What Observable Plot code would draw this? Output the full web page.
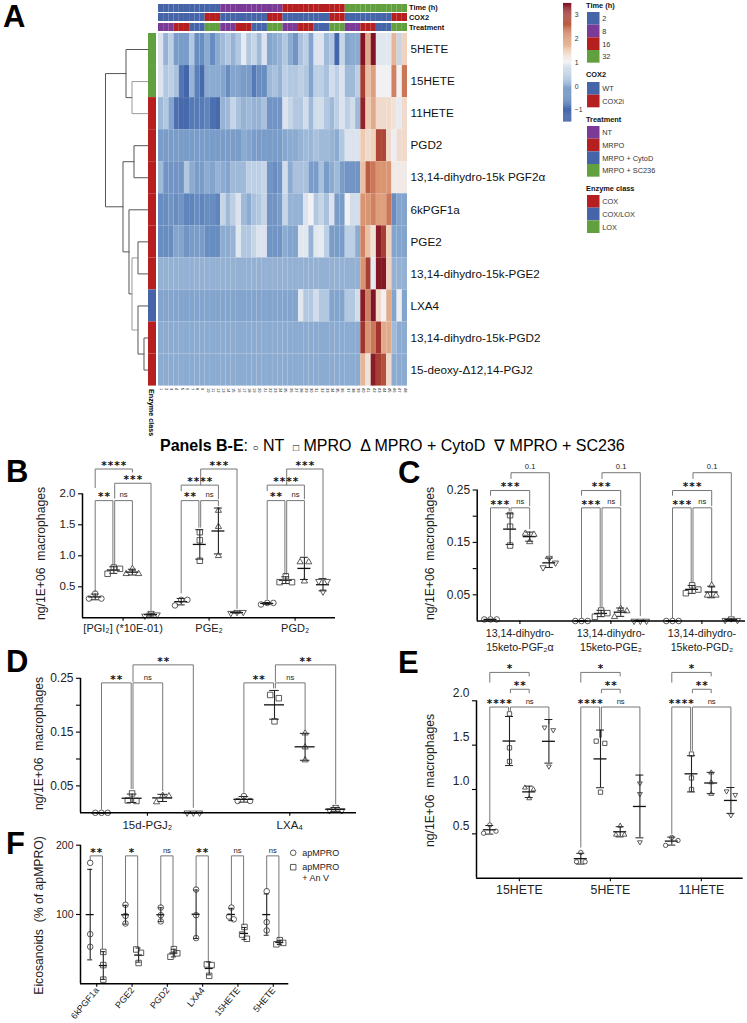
<!DOCTYPE html>
<html><head><meta charset="utf-8">
<script src="https://cdn.jsdelivr.net/npm/d3@7"></script>
<script src="https://cdn.jsdelivr.net/npm/@observablehq/plot@0.6"></script>
<style>
html,body{margin:0;padding:0;background:#fff}
#page{position:relative;width:747px;height:1023px;overflow:hidden;font-family:"Liberation Sans",Arial,sans-serif;color:#000}
#page svg{position:absolute;background:transparent;overflow:visible}
.letter{position:absolute;font-weight:bold;font-size:31px;line-height:31px}
.head{position:absolute;left:160px;top:436px;font-size:16px;white-space:nowrap;line-height:20px}
.ec{position:absolute;left:147px;top:389px;font-size:7.2px;font-weight:bold;writing-mode:vertical-rl;white-space:nowrap}
.lt{position:absolute;font-size:7.4px;font-weight:bold;white-space:nowrap;line-height:8px;color:#111}
</style></head><body><div id="page"></div>
<script>
// ---------- Panel A data ----------
const rowNames=["5HETE","15HETE","11HETE","PGD2","13,14-dihydro-15k PGF2α","6kPGF1a","PGE2","13,14-dihydro-15k-PGE2","LXA4","13,14-dihydro-15k-PGD2","15-deoxy-Δ12,14-PGJ2"];
const r5HETE=[0.8,0.1,0.5,-0.2,-0.2,-0.2,0.4,-0.4,-0.4,0,-0.4,0,0.2,0.4,0.1,0.4,0.9,0.4,0.6,0.2,0.8,-0.1,0,0.1,0.4,0,-0.3,0.3,0.5,-0.1,0.8,0.8,0.2,0.4,-1.1,0.6,-0.1,0,0,3.4,1.8,3.4,0.85,0.85,0.85,1.7,0.6,1.4];
const r15HETE=[0.8,0.4,0.5,0.3,-0.8,-1.1,0.1,-0.6,-1.0,0,0,0,-0.1,-0.4,-0.1,-0.1,-0.2,-0.2,-0.7,-0.4,-0.4,0.2,0.3,0.1,0.5,0.4,0.4,0.5,0.4,-0.1,0.5,0.5,0.3,0.7,0.5,0.8,0.2,0.2,0.5,2.9,1.6,1.9,1.0,1.0,1.0,2.2,1.0,2.3];
const r11HETE=[0.2,0.4,-0.1,-0.9,-1.0,-1.0,-0.7,-0.7,-0.7,-0.5,-0.9,-1.0,0.1,0.2,0.6,0.3,0.1,0.2,0.1,0.1,0.3,-0.3,-0.3,-0.3,0.8,0.6,0.4,0.4,0.7,0.2,0.7,0.7,0.4,0.2,0.5,0.8,0.5,0.7,0.2,3.2,1.5,1.8,1.3,1.3,1.3,1.2,0.9,1.3];
const rPGD2=[-0.2,-0.2,-0.2,-0.2,-0.2,-0.2,-0.2,-0.2,-0.2,-0.2,-0.2,-0.2,-0.2,-0.2,-0.2,-0.2,0,-0.1,-0.2,-0.2,-0.2,-0.2,-0.2,-0.2,-0.05,0,0,0.1,0.2,0.15,0.3,0.2,0.2,0.1,0,0.4,0.8,0.8,0.8,1.5,1.3,1.4,2.8,2.8,1.3,0.95,1.3,1.3];
const rPGF2a=[0.2,-0.3,-0.3,-0.3,-0.3,0.4,0,-0.2,-0.2,0,-0.1,0.1,0,-0.1,0.2,0.2,0.2,0.5,0.5,0.5,0.6,-0.3,-0.4,-0.3,0.7,0,0.3,0.3,0.3,-0.2,-0.2,0.3,-0.2,0,0.2,-0.2,-0.3,-0.3,-0.3,1.6,2.6,2.3,2.0,2.0,2.0,1.1,1.1,1.1];
const r6k=[-0.4,-0.4,-0.3,-0.4,-0.3,-0.5,-0.5,-0.4,-0.5,-0.4,-0.4,-0.5,0.6,0.2,0.5,0.8,0.2,0,0.3,0.4,0.6,-0.3,-0.3,-0.2,0.6,0.1,0.1,0.1,0.8,1.0,0.4,0.6,0.3,0.8,-0.2,-0.2,1.0,0.7,0.7,2.0,2.0,2.2,1.9,1.9,2.3,-0.4,-0.1,-0.1];
const rPGE2=[-0.4,-0.4,-0.4,-0.1,-0.1,-0.3,-0.2,-0.2,-0.2,-0.4,-0.4,-0.4,0,0,0.1,0.85,0.4,0.4,0.6,0.8,0.8,-0.3,-0.3,-0.3,0,-0.1,-0.1,0.85,0.85,0.1,0.85,0.9,0.5,-0.2,-0.2,-0.2,0.5,0.5,0,2.2,1.6,1.2,3.3,2.9,1.4,-0.1,-0.1,-0.1];
const rPGE2k=[0.08,0.08,0.08,0.08,0.08,0.08,0.08,0.08,0.08,0.08,0.08,0.08,0.08,0.08,0.08,0.08,0.08,0.08,0.08,0.08,0.08,0.08,0.08,0.08,0.08,0.08,0.08,0.08,0.08,0.08,0.08,0.08,0.08,0.08,0.08,0.08,0.08,0.08,0.08,2.0,2.9,0.9,3.35,3.35,1.4,0.08,0.08,0.08];
const rLXA4=[-0.1,-0.1,-0.1,-0.1,-0.1,-0.1,-0.1,-0.1,-0.1,-0.1,-0.1,-0.1,-0.1,-0.1,-0.1,-0.1,-0.1,-0.1,-0.1,-0.1,-0.1,-0.1,-0.1,-0.1,-0.1,-0.1,-0.1,0.85,0.4,0.4,0.7,0.4,0.4,-0.1,-0.1,-0.1,0.4,0.4,0.7,3.3,2.2,3.4,1.3,1.0,1.8,-0.1,0.95,-0.1];
const rPGD2k=[0,0,0,0,0,0,0,0,0,0,0,0,0,0,0,0,0,0,0,0,0,0,0,0,0,0,0,0,0,0,0,0,0,0,0,0,0,0,0,3,2,2.3,3,1.8,1.8,0.2,0,0];
const rPGJ2=[0,0,0,0,0,0,0,0,0,0,0,0,0,0,0,0,0,0,0,0,0,0,0,0,0,0,0,0,0,0,0,0,0,0,0,0,0,0,0,1.7,1.2,3.3,2.9,2.7,1.3,0,0,0];
const heatRows=[r5HETE,r15HETE,r11HETE,rPGD2,rPGF2a,r6k,rPGE2,rPGE2k,rLXA4,rPGD2k,rPGJ2];
const heatStops=[-1.49,-0.5,-0.2,0,0.5,1,1.5,2,2.5,3,3.46];
const heatColors=["#30509f","#5f85bc","#7a9cc8","#8cabd1","#bccfe4","#f1f1f4","#eecbb0","#d99472","#c06446","#a03530","#7c0f22"];
const catBlue="#4565a8",catPurple="#7b3a96",catRed="#b51f1f",catGreen="#62a03f";
const timeCats=["2","8","16","32"],timeCols=[catBlue,catPurple,catRed,catGreen];
const coxCats=["WT","COX2i"],coxCols=[catBlue,catRed];
const treatCats=["NT","MRPO","MRPO + CytoD","MRPO + SC236"],treatCols=[catPurple,catRed,catBlue,catGreen];
const enzCats=["COX","COX/LOX","LOX"],enzCols=[catRed,catBlue,catGreen];
const enzymeByRow=["LOX","LOX","COX","COX","COX","COX","COX","COX","COX/LOX","COX","COX"];
// nested merges [distance, left, right]; numbers are row indices
const dendroTree=[42.5,[22,0,[16,1,2]],[25,[14,3,4],[19,5,[16,[10,6,7],[10,8,[4,9,10]]]]]];

// ---------- Panels B-E ----------
const groupsB=["[PGI₂] (*10E-01)","PGE₂","PGD₂"];
const valuesB=[[[0.39,0.31,0.31],[0.81,0.79,0.71],[0.79,0.71,0.71],[0.075,0.05,0.03]],
 [[0.29,0.29,0.2],[1.38,1.25,0.92],[1.73,1.47,1.0],[0.09,0.09,0.075]],
 [[0.24,0.24,0.215],[0.67,0.575,0.575],[0.9,0.9,0.59],[0.59,0.59,0.42]]];
const bracketsB=[[0,0,2,2.40,2.1,2.35,"****"],[0,1,3,2.17,1.93,0.12,"***"],[0,0,1,1.89,0.42,0.85,"**"],[0,1,2,1.89,0.85,0.85,"ns"],
 [1,1,3,2.40,2.14,0.15,"***"],[1,0,2,2.14,2.05,1.92,"****"],[1,0,1,1.89,0.4,1.46,"**"],[1,1,2,1.89,1.46,1.81,"ns"],
 [2,1,3,2.40,2.14,0.65,"***"],[2,0,2,2.14,2.05,1.92,"****"],[2,0,1,1.89,0.3,0.7,"**"],[2,1,2,1.89,0.7,1.0,"ns"]];
const groupsC=["13,14-dihydro-\n15keto-PGF₂α","13,14-dihydro-\n15keto-PGE₂","13,14-dihydro-\n15keto-PGD₂"];
const valuesC=[[[0.003,0.003,0.003],[0.202,0.18,0.144],[0.167,0.165,0.151],[0.12,0.111,0.102]],
 [[0,0,0],[0.02,0.015,0.008],[0.0235,0.019,0.008],[0,0,0]],
 [[0,0,0],[0.068,0.06,0.053],[0.068,0.049,0.049],[0.0045,0.0015,0.0015]]];
const bracketsC=[[0,1,3,0.283,0.272,0.125,"0.1"],[0,0,2,0.249,0.24,0.22,"***"],[0,0,1,0.216,0.01,0.21,"***"],[0,1,2,0.216,0.21,0.176,"ns"],
 [1,1,3,0.283,0.272,0.01,"0.1"],[1,0,2,0.249,0.24,0.22,"***"],[1,0,1,0.216,0.006,0.027,"***"],[1,1,2,0.216,0.027,0.03,"ns"],
 [2,1,3,0.283,0.272,0.01,"0.1"],[2,0,2,0.249,0.24,0.22,"***"],[2,0,1,0.216,0.006,0.074,"***"],[2,1,2,0.216,0.074,0.074,"ns"]];
const groupsD=["15d-PGJ₂","LXA₄"];
const valuesD=[[[0,0,0],[0.036,0.023,0.022],[0.032,0.031,0.02],[0,0,0]],
 [[0.031,0.022,0.022],[0.219,0.213,0.17],[0.148,0.122,0.098],[0.0105,0.0043,0.0043]]];
const bracketsD=[[0,1,3,0.275,0.244,0.01,"**"],[0,0,1,0.2415,0.007,0.045,"**"],[0,1,2,0.2415,0.045,0.041,"ns"],
 [1,1,3,0.275,0.244,0.017,"**"],[1,0,1,0.2415,0.038,0.232,"**"],[1,1,2,0.2415,0.232,0.156,"ns"]];
const groupsE=["15HETE","5HETE","11HETE"];
const valuesE=[[[0.6,0.53,0.507],[1.853,1.47,1.316],[1.02,1.0,0.9],[1.7,1.67,1.26]],
 [[0.29,0.185,0.185],[1.545,1.52,0.97],[0.59,0.49,0.49],[1.07,0.95,0.406]],
 [[0.46,0.425,0.37],[1.4,1.13,1.0],[1.19,1.08,0.95],[0.98,0.94,0.71]]];
const bracketsE=[[0,0,2,2.32,2.21,2.28,"*"],[0,1,2,2.13,2.09,2.09,"**"],[0,0,1,1.93,0.63,1.89,"****"],[0,1,3,1.93,1.89,1.74,"ns"],
 [1,0,2,2.32,2.21,2.28,"*"],[1,1,2,2.13,2.09,2.09,"**"],[1,0,1,1.93,0.35,1.59,"****"],[1,1,3,1.93,1.59,1.10,"ns"],
 [2,0,2,2.32,2.21,2.28,"*"],[2,1,2,2.13,2.09,2.09,"**"],[2,0,1,1.93,0.5,1.44,"****"],[2,1,3,1.93,1.44,1.03,"ns"]];
// ---------- Panel F ----------
const groupsF=["6kPGF1a","PGE2","PGD2","LXA4","15HETE","5HETE"];
const valuesF=[[[174.5,71.6,53.4],[46,27,6]],[[114,98,87],[49.5,44.7,30]],[[110,99,90],[50,44,39]],
 [[136,99,66],[28,27,11.5]],[[110,97,93],[82,71,65]],[[133.6,89,77],[63,59,57]]];
const bracketsF=[[0,0,1,184.6,178,51,"**"],[1,0,1,184.6,118,53,"*"],[2,0,1,184.6,113,53,"ns"],[3,0,1,184.6,139,32,"**"],[4,0,1,184.6,114,85,"ns"],[5,0,1,184.6,137,65,"ns"]];
const legendF=["apMPRO","apMPRO\n+ An V"];

// ---------- helpers ----------
const page=document.getElementById("page");
const FONT='"Liberation Sans",Arial,sans-serif';
function place(svg,left,top){svg.style.left=left+"px";svg.style.top=top+"px";page.appendChild(svg);}
function html(cls,txt,style){const d=document.createElement("div");d.className=cls;d.innerHTML=txt;if(style)Object.assign(d.style,style);page.appendChild(d);}
const heatColorScale={type:"linear",domain:heatStops,range:heatColors,interpolate:"rgb"};
const HX0=158,HX1=407,HY0=33,HY1=385.6;
const columns=d3.range(1,49);

// heatmap
const cells=heatRows.flatMap((r,i)=>r.map((v,j)=>({row:rowNames[i],col:j+1,v})));
place(Plot.plot({width:747,height:440,marginTop:HY0,marginBottom:440-HY1,marginLeft:HX0,marginRight:747-HX1,
 style:{fontFamily:FONT},
 x:{type:"band",domain:columns,padding:0,round:false,axis:null},
 y:{type:"band",domain:rowNames,padding:0,round:false,axis:null},
 color:heatColorScale,
 marks:[Plot.cell(cells,{x:"col",y:"row",fill:"v"}),
  Plot.axisX(columns,{anchor:"bottom",tickSize:0,tickPadding:2,tickRotate:90,fontSize:4,label:null}),
  Plot.axisY(rowNames,{anchor:"right",tickSize:0,tickPadding:3,fontSize:11.7,label:null,fill:"#111"})]}),0,0);

// annotation strips
function strip(cats,cols,assign,top,h){
 const d=columns.map(c=>({c,k:assign(c-1)}));
 place(Plot.plot({width:747,height:h,margin:0,marginLeft:HX0,marginRight:747-HX1,
  x:{type:"band",domain:columns,padding:0,round:false,axis:null},
  color:{type:"ordinal",domain:cats,range:cols},
  marks:[Plot.cell(d,{x:"c",fill:"k"})]}),0,top);
}
strip(timeCats,timeCols,i=>timeCats[Math.floor(i/12)],4,8);
strip(coxCats,coxCols,i=>i%12<9?"WT":"COX2i",13.3,8);
strip(treatCats,treatCols,i=>treatCats[Math.floor(i/3)%4],22.7,8);
for(const [t,y] of [["Time (h)",3],["COX2",13],["Treatment",23]]) html("lt",t,{left:"409px",top:(y+0.5)+"px"});

// enzyme class strip
place(Plot.plot({width:156,height:HY1-HY0,margin:0,marginLeft:148,
 x:{axis:null},y:{type:"band",domain:rowNames,padding:0,round:false,axis:null},
 color:{type:"ordinal",domain:enzCats,range:enzCols},
 marks:[Plot.cell(rowNames.map((r,i)=>({r,k:enzymeByRow[i]})),{y:"r",fill:"k"})]}),0,HY0);
html("ec","Enzyme class");

// dendrogram
const dSegs=[];let dId=0;
function walk(n){ if(typeof n==="number") return {h:0,y:n+0.5};
 const a=walk(n[1]),b=walk(n[2]);
 const id=dId++, light=(n[0]===16);
 dSegs.push({id,light,h:a.h,y:a.y},{id,light,h:n[0],y:a.y},{id,light,h:n[0],y:b.y},{id,light,h:b.h,y:b.y});
 return {h:n[0],y:(a.y+b.y)/2};}
walk(dendroTree);
place(Plot.plot({width:148,height:HY1-HY0,margin:0,
 x:{domain:[42.5,0],range:[105,147.5],axis:null},y:{domain:[0,11],range:[0,HY1-HY0],axis:null},
 marks:[Plot.line(dSegs.filter(d=>!d.light),{x:"h",y:"y",z:"id",stroke:"#555",strokeWidth:1,curve:"linear"}),
        Plot.line(dSegs.filter(d=>d.light),{x:"h",y:"y",z:"id",stroke:"#999",strokeWidth:1,curve:"linear"})]}),0,HY0);

// colorbar
const barSteps=d3.range(-1.49,3.46,0.04);
place(Plot.plot({width:24,height:119,margin:0,marginRight:15.7,
 style:{fontFamily:FONT},
 x:{domain:[0,1],axis:null},y:{domain:[-1.49,3.46],range:[118.5,0.3],axis:null},
 color:heatColorScale,
 marks:[Plot.rect(barSteps,{x1:0,x2:1,y1:d=>d,y2:d=>d+0.045,fill:d=>d}),
  Plot.axisY([-1,0,1,2,3],{anchor:"right",tickSize:0,tickPadding:3,fontSize:6.8,fill:"#333",label:null})]}),562.7,3);

// category legends
function catLegend(title,cats,cols,titleY,swTop,swLeft){
 html("lt",title,{left:"586px",top:(titleY-4)+"px"});
 const step=12.67;
 place(Plot.plot({width:150,height:step*cats.length,margin:0,marginLeft:0,marginRight:150-12.5,
  style:{fontFamily:FONT},
  x:{domain:[0,1],axis:null},y:{type:"band",domain:cats,padding:0,round:false,axis:null},
  color:{type:"ordinal",domain:cats,range:cols},
  marks:[Plot.cell(cats,{y:d=>d,fill:d=>d}),
   Plot.axisY(cats,{anchor:"right",tickSize:0,tickPadding:2.2,fontSize:7.4,fill:"#333",label:null})]}),swLeft,swTop);
}
catLegend("Time (h)",timeCats,timeCols,6,12.3,586.7);
catLegend("COX2",coxCats,coxCols,75,81.7,586.7);
catLegend("Treatment",treatCats,treatCols,120,126,587.3);
catLegend("Enzyme class",enzCats,enzCols,189,195,586.7);

// scatter panels
function swarm(vals,ppu,thresh,k){
 const idx=d3.range(vals.length).sort((a,b)=>vals[b]-vals[a]);
 const off=vals.map(()=>0);let i=0;
 while(i<idx.length){let j=i;
  while(j+1<idx.length&&(vals[idx[j]]-vals[idx[j+1]])*ppu<thresh)j++;
  const n=j-i+1;
  if(n===2){off[idx[i]]=-4.3*k;off[idx[j]]=4.3*k;}
  if(n===3){off[idx[i]]=0;off[idx[i+1]]=6.2*k;off[idx[i+2]]=-6.2*k;}
  i=j+1;}
 return off;}
const shapes=[{symbol:"circle",r:2.8},{symbol:"square",r:3.1},{symbol:"triangle",r:2.3},{symbol:"triangle",r:2.3,rotate:180}];
function panel(c){
 const ppu=c.ppu,spacing=c.spacing,gap=c.step/c.spacing,symK=c.symK||1;
 const x0=(c.axisL-c.firstPx)/spacing,x1=(c.axisR-c.firstPx)/spacing;
 const pos=(g,t)=>g*gap+t;
 const pts=[],stats=[];
 c.values.forEach((grp,g)=>grp.forEach((vals,t)=>{
  const off=swarm(vals,ppu,c.thresh||6.5,c.swK||1);
  vals.forEach((v,i)=>pts.push({t,x:pos(g,t)+off[i]/spacing,v}));
  const m=d3.mean(vals),s=d3.deviation(vals);
  stats.push({x:pos(g,t),m,lo:Math.max(0,m-s),hi:m+s});
 }));
 const segs=[],labs=[];
 c.brackets.forEach((b,i)=>{const [g,a,bb,lev,ea,eb,label]=b;
  const xa=pos(g,a)+(a===1?0.9/spacing:0), xb=pos(g,bb)-(bb===1?0.9/spacing:0);
  segs.push({id:i,x:xa,y:ea},{id:i,x:xa,y:lev},{id:i,x:xb,y:lev},{id:i,x:xb,y:eb});
  labs.push({x:(xa+xb)/2,y:lev,label});});
 const isStar=d=>d.label.includes("*");
 const starTxt=d=>d.label.split("").join("\u200a");
 const centers=c.values.map((grp,g)=>pos(g,(grp.length-1)/2));
 const nameOf=new Map(centers.map((k,i)=>[k,c.groups[i]]));
 const fc=(c.baseline-c.top)/2, h=c.height;
 const marks=[
  Plot.line(segs,{x:"x",y:"y",z:"id",stroke:"#777",strokeWidth:1}),
  Plot.text(labs.filter(isStar),{x:"x",y:"y",text:starTxt,dy:-3.6,fontSize:10.5,fontWeight:"bold",fontFamily:"DejaVu Sans",fill:"#111"}),
  Plot.text(labs.filter(d=>!isStar(d)),{x:"x",y:"y",text:"label",dy:-5.8,fontSize:7.6,fill:"#222"}),
  Plot.ruleX(stats,{x:"x",y1:"lo",y2:"hi",stroke:"#222",strokeWidth:1.1}),
  Plot.ruleY(stats,{y:"hi",x1:d=>d.x-c.cap/spacing,x2:d=>d.x+c.cap/spacing,stroke:"#222",strokeWidth:1}),
  Plot.ruleY(stats,{y:"lo",x1:d=>d.x-c.cap/spacing,x2:d=>d.x+c.cap/spacing,stroke:"#222",strokeWidth:1}),
  Plot.ruleY(stats,{y:"m",x1:d=>d.x-c.mean/spacing,x2:d=>d.x+c.mean/spacing,stroke:"#111",strokeWidth:1.3}),
  ...shapes.map((s,t)=>Plot.dot(pts.filter(d=>d.t===t),{x:"x",y:"v",stroke:"#333",strokeWidth:0.8,fill:"none",...s,r:s.r*symK})),
  Plot.ruleX([x0],{y1:0,y2:c.yTicks[c.yTicks.length-1],stroke:"#000",strokeWidth:1.5}),
  Plot.ruleY([0],{x1:x0,x2:x1,stroke:"#000",strokeWidth:1.5}),
  Plot.axisY(c.yTicks,{tickSize:4,fill:"none",label:null,strokeWidth:1.1}),
  Plot.axisY(c.yLabels,{tickSize:0,tickPadding:c.yPad||7,dy:c.yDy||0,fontSize:c.yFont||12,tickFormat:d3.format(c.fmt),label:null,fill:"#222"}),
  Plot.axisX(centers,{tickSize:3.5,tickPadding:c.xPad,fontSize:c.xFont,lineHeight:c.xLine||1.2,tickRotate:c.xRotate||0,tickFormat:d=>nameOf.get(d),label:null,fill:"#222",strokeWidth:1.1}),
  Plot.text([c.yTitle],{frameAnchor:"left",textAnchor:"middle",rotate:-90,dx:c.titleX-c.axisL,dy:c.titleY-(c.top+fc),fontSize:12.2,fill:"#222"})
 ];
 place(Plot.plot({width:c.width,height:h,marginTop:0,marginBottom:h-(c.baseline-c.top),marginLeft:c.axisL-c.left,marginRight:c.width-(c.axisR-c.left),
  style:{fontFamily:FONT},
  x:{domain:[x0,x1],axis:null},
  y:{domain:[0,(c.baseline-c.top)/ppu],axis:null},
  marks}),c.left,c.top);
}
const yNg="ng/1E+06\u00a0\u00a0macrophages";
panel({left:0,top:450,width:370,height:195,axisL:82,axisR:335,baseline:617.3,ppu:62,firstPx:94.7,spacing:18.6,step:86,cap:4,mean:6.5,
 values:valuesB,groups:groupsB,brackets:bracketsB,yTicks:[0.5,1,1.5,2],yLabels:[0.5,1,1.5,2],fmt:".1f",yFont:11.5,xFont:11,xPad:1.5,yTitle:yNg,titleX:40.7,titleY:553});
panel({left:370,top:450,width:377,height:205,axisL:476.7,axisR:745,baseline:620.5,ppu:524,firstPx:490,spacing:19.6,step:91,cap:4,mean:6.5,
 values:valuesC,groups:groupsC,brackets:bracketsC,yTicks:[0.05,0.1,0.15,0.2,0.25],yLabels:[0.05,0.15,0.25],fmt:".2f",xFont:10.6,xPad:2,xLine:1.35,yTitle:yNg,titleX:429.3,titleY:553});
panel({left:0,top:645,width:370,height:195,axisL:80,axisR:356,baseline:812.3,ppu:538,firstPx:101,spacing:30.6,step:142.4,cap:4.8,mean:10,
 values:valuesD,groups:groupsD,brackets:bracketsD,yTicks:[0.05,0.1,0.15,0.2,0.25],yLabels:[0.05,0.15,0.25],fmt:".2f",xFont:11.5,xPad:3,yTitle:yNg,titleX:38.3,titleY:743});
panel({left:370,top:655,width:377,height:245,axisL:476,axisR:742.7,baseline:877.7,ppu:88.7,firstPx:489.3,spacing:19.7,step:91,cap:4,mean:6.5,symK:0.78,
 values:valuesE,groups:groupsE,brackets:bracketsE,yTicks:[0.5,1,1.5,2],yLabels:[0.5,1,1.5,2],fmt:".1f",yDy:-8,xFont:12.3,xPad:1.5,yTitle:yNg,titleX:429.3,titleY:780});
panel({left:0,top:840,width:300,height:183,axisL:80,axisR:288.3,baseline:983.3,ppu:0.693,firstPx:89.7,spacing:13.1,step:35.3,cap:2.5,mean:4,thresh:4.5,swK:0.55,
 values:valuesF,groups:groupsF,brackets:bracketsF,yTicks:[100,200],yLabels:[100,200],fmt:"d",yFont:10.5,xFont:9,xPad:1,xRotate:-50,yTitle:"Eicosanoids\u00a0 (% of apMPRO)",titleX:38.3,titleY:915});

// panel F legend
place(Plot.plot({width:80,height:45,margin:0,style:{fontFamily:FONT},
 x:{domain:[0,1],axis:null},
 y:{type:"point",domain:legendF,range:[5.3,19.7],padding:0,round:false,axis:null},
 marks:[Plot.dot(legendF.slice(0,1),{y:d=>d,frameAnchor:"left",dx:7.7,symbol:"circle",r:2.8,stroke:"#333",strokeWidth:0.8}),
  Plot.dot(legendF.slice(1),{y:d=>d,frameAnchor:"left",dx:7.7,symbol:"square",r:3.1,stroke:"#333",strokeWidth:0.8}),
  Plot.text(legendF,{y:d=>d,text:d=>d,frameAnchor:"left",dx:16.7,dy:-4.5,lineAnchor:"top",textAnchor:"start",fontSize:9,lineHeight:1.2,fill:"#222"})]}),285,847);

// page-level text
for(const [t,x,y] of [["A",3,1],["B",6,456],["C",398,457],["D",6,646],["E",398,647],["F",6,828]])
 html("letter",t,{left:x+"px",top:y+"px"});
html("head",'<b>Panels B-E</b>: <span style="font-size:10px">○</span> NT &nbsp;<span style="font-size:10px">□</span> MPRO &nbsp;Δ MPRO + CytoD &nbsp;∇ MPRO + SC236');
</script></body></html>
